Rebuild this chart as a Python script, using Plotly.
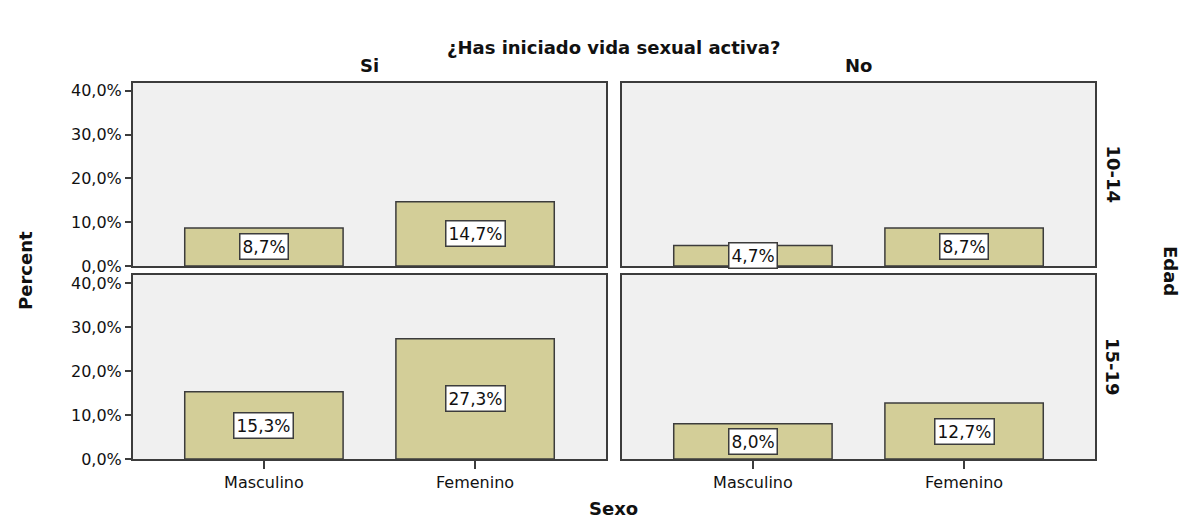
import plotly.graph_objects as go

# data
SEXO = ["Masculino", "Femenino"]
VIDA_ACTIVA = ["Si", "No"]
EDAD = ["10-14", "15-19"]
SI_10_14 = [8.7, 14.7]
NO_10_14 = [4.7, 8.7]
SI_15_19 = [15.3, 27.3]
NO_15_19 = [8.0, 12.7]
Y_TICKS = [0, 10, 20, 30, 40]

BAR_FILL = "#d3ce98"
FRAME = "#3c3c3c"
TEXT = "#111111"
FONT = "DejaVu Sans, Arial, sans-serif"

W, H = 1187, 520
OFF = 7  # page body margin shifts the figure by a few pixels


def px(x):
    return (x - OFF) / W


def py(y):
    return 1 - (y - OFF) / H


def _pct(v):
    return f"{v:.1f}".replace(".", ",") + "%"


# panel boxes in screen pixels (left, right) / (top, bottom)
COLS = [(132, 605), (621, 1094)]
ROWS = [(82, 265), (274, 458)]

panels = [
    (0, 0, SI_10_14),
    (0, 1, NO_10_14),
    (1, 0, SI_15_19),
    (1, 1, NO_15_19),
]

fig = go.Figure()
layout = {}
annotations = []

for i, (r, c, vals) in enumerate(panels):
    n = "" if i == 0 else str(i + 1)
    xa, ya = "x" + n, "y" + n
    fig.add_trace(go.Bar(
        x=SEXO, y=vals,
        xaxis=xa, yaxis=ya,
        width=0.75,
        marker=dict(color=BAR_FILL, line=dict(color=FRAME, width=1.5)),
        showlegend=False,
        hoverinfo="skip",
    ))
    x0, x1 = COLS[c]
    y0, y1 = ROWS[r]
    bottom_row = r == 1
    left_col = c == 0
    layout["xaxis" + n] = dict(
        domain=[px(x0), px(x1)],
        anchor=ya,
        range=[-0.62, 1.62],
        showgrid=False, zeroline=False,
        showline=True, mirror=True, linecolor=FRAME, linewidth=2,
        ticks="outside" if bottom_row else "",
        ticklen=8, tickwidth=2, tickcolor=FRAME,
        showticklabels=bottom_row,
        tickfont=dict(family=FONT, size=16, color=TEXT),
        automargin=False,
    )
    layout["yaxis" + n] = dict(
        domain=[py(y1), py(y0)],
        anchor=xa,
        range=[0, 41.8],
        showgrid=False, zeroline=False,
        showline=True, mirror=True, linecolor=FRAME, linewidth=2,
        tickvals=Y_TICKS,
        ticktext=[_pct(t) for t in Y_TICKS],
        ticks="outside" if left_col else "",
        ticklen=6, tickwidth=2, tickcolor=FRAME,
        showticklabels=left_col,
        tickfont=dict(family=FONT, size=16, color=TEXT),
        automargin=False,
    )
    for cat, v in zip(SEXO, vals):
        annotations.append(dict(
            x=cat, y=v / 2, xref=xa, yref=ya,
            xanchor="center", yanchor="middle",
            text=_pct(v), showarrow=False,
            font=dict(family=FONT, size=17, color=TEXT),
            bgcolor="#ffffff", bordercolor=FRAME, borderwidth=1.5, borderpad=2,
        ))

# facet headers
for c, label in enumerate(VIDA_ACTIVA):
    x0, x1 = COLS[c]
    annotations.append(dict(
        x=px((x0 + x1) / 2), y=py(64), xref="paper", yref="paper",
        xanchor="center", yanchor="middle",
        text=f"<b>{label}</b>", showarrow=False,
        font=dict(family=FONT, size=18, color=TEXT),
    ))
for r, label in enumerate(EDAD):
    y0, y1 = ROWS[r]
    annotations.append(dict(
        x=px(1112), y=py((y0 + y1) / 2), xref="paper", yref="paper",
        xanchor="center", yanchor="middle",
        text=f"<b>{label}</b>", showarrow=False, textangle=90,
        font=dict(family=FONT, size=18, color=TEXT),
    ))

annotations += [
    dict(x=px(613), y=py(47), text="<b>¿Has iniciado vida sexual activa?</b>",
         font=dict(family=FONT, size=18, color=TEXT)),
    dict(x=px(613), y=py(507), text="<b>Sexo</b>",
         font=dict(family=FONT, size=18, color=TEXT)),
    dict(x=px(24), y=py(270), text="<b>Percent</b>", textangle=-90,
         font=dict(family=FONT, size=18, color=TEXT)),
    dict(x=px(1170), y=py(270), text="<b>Edad</b>", textangle=90,
         font=dict(family=FONT, size=18, color=TEXT)),
]
for a in annotations[-4:]:
    a.update(xref="paper", yref="paper", xanchor="center", yanchor="middle",
             showarrow=False)

fig.update_layout(
    **layout,
    width=W, height=H,
    margin=dict(l=0, r=0, t=0, b=0),
    paper_bgcolor="#ffffff",
    plot_bgcolor="#f0f0f0",
    bargap=0.25,
    annotations=annotations,
    font=dict(family=FONT, color=TEXT),
)

fig.write_html("out.html")
